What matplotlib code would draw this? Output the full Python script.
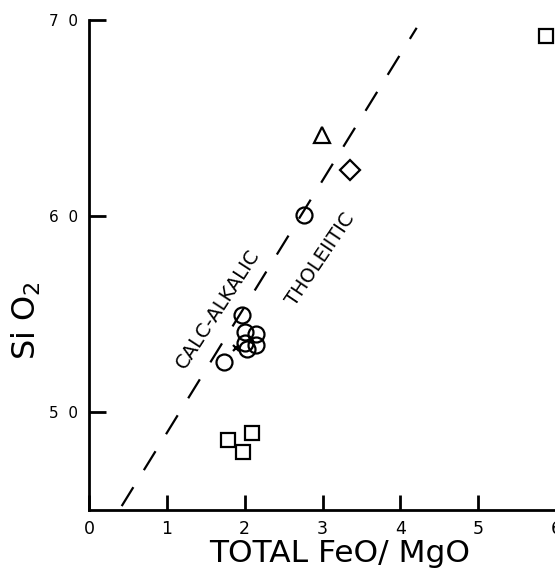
import matplotlib
matplotlib.use("Agg")
import matplotlib.pyplot as plt

# ---- data ----
circle_x = [1.73, 1.96, 2.00, 2.15, 2.15, 2.00, 2.03, 2.76]
circle_y = [52.55, 54.95, 54.10, 54.00, 53.40, 53.50, 53.20, 60.05]
square_x = [1.79, 2.10, 1.98, 5.87]
square_y = [48.57, 48.93, 47.96, 69.18]
triangle_x = [2.99]
triangle_y = [64.13]
diamond_x = [3.35]
diamond_y = [62.35]
cross_x = [1.89]
cross_y = [53.27]
divider_x = [0.42, 4.21]
divider_y = [45.2, 69.6]
xticks = [0, 1, 2, 3, 4, 5, 6]
yticks = [50, 60, 70]
ytick_labels = ["5  0", "6  0", "7  0"]

plt.rcParams['font.family'] = ['DejaVu Sans']

fig = plt.figure(figsize=(5.55, 5.70), dpi=100)
ax = fig.add_axes([89/555, 60/570, 467/555, 490/570])
ax.set_xlim(0, 6)
ax.set_ylim(45, 70)

for s in ['top', 'right']:
    ax.spines[s].set_visible(False)
for s in ['left', 'bottom']:
    ax.spines[s].set_linewidth(2)
    ax.spines[s].set_color('black')

ax.set_xticks(xticks)
ax.set_xticklabels([str(v) for v in xticks])
ax.set_yticks(yticks)
ax.set_yticklabels(ytick_labels)
ax.tick_params(axis='x', direction='in', length=11, width=2, pad=7, labelsize=12.5)
ax.tick_params(axis='y', direction='in', length=12, width=2, pad=8, labelsize=11)

ax.plot(divider_x, divider_y, color='black', lw=1.6, dashes=(10, 9), solid_capstyle='butt')

mk = dict(linestyle='none', markerfacecolor='none', markeredgecolor='black', markeredgewidth=1.6, clip_on=False)
ax.plot(circle_x, circle_y, marker='o', markersize=11.5, **mk)
ax.plot(square_x, square_y, marker='s', markersize=10, **mk)
ax.plot(triangle_x, triangle_y, marker='^', markersize=12, **mk)
ax.plot(diamond_x, diamond_y, marker='D', markersize=10.5, **mk)
ax.plot(cross_x, cross_y, marker='x', markersize=5, **mk)

ax.text(1.66, 55.26, "CALC-ALKALIC", rotation=57, rotation_mode='anchor',
        ha='center', va='center', fontsize=14)
ax.text(2.98, 57.8, "THOLEIITIC", rotation=56, rotation_mode='anchor',
        ha='center', va='center', fontsize=14)

ax.set_xlabel("TOTAL FeO/ MgO", fontsize=22.5, va='center')
ax.xaxis.set_label_coords(0.537, -0.088)
ax.set_ylabel("Si O$_2$", fontsize=23, va='center')
ax.yaxis.set_label_coords(-0.135, 0.386)

fig.savefig("out.png", dpi=100)
